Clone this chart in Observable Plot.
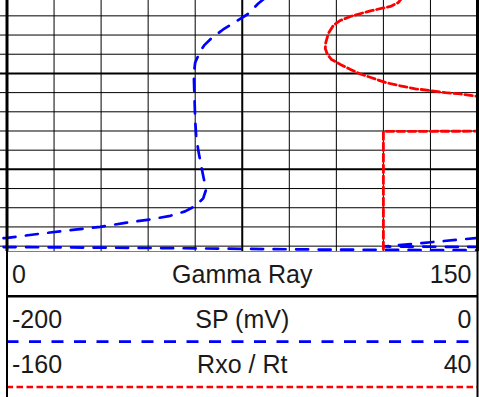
<!DOCTYPE html>
<html><head><meta charset="utf-8">
<script src="https://cdn.jsdelivr.net/npm/d3@7"></script>
<script src="https://cdn.jsdelivr.net/npm/@observablehq/plot@0.6"></script>
<style>
html,body{margin:0;padding:0;background:#fff;}
#chart svg{display:block;}
</style></head><body><div id="chart"></div>
<script>
// Track header scales
const trackLabels = ["Gamma Ray", "SP (mV)", "Rxo / Rt"];
const trackMin = [0, -200, -160];
const trackMax = [150, 0, 40];

// Depth window and 1-unit grid (heavy line every 5)
const depthDomain = [991.2, 1004.28];
const depthTicks = [992, 993, 994, 995, 996, 997, 998, 999, 1000, 1001, 1002, 1003, 1004];

// SP curve (mV) – main trace
const spMainDepth = [991.10, 991.36, 991.93, 992.35, 992.71, 993.13, 993.54, 993.86, 994.43, 995.05, 995.89, 997.45, 998.23, 999.01, 999.79, 1000.57, 1001.10, 1001.51, 1001.88, 1002.19, 1002.42, 1002.61, 1002.79, 1003.00, 1003.14, 1003.29, 1003.45, 1003.57, 1003.70];
const spMainValue = [-90.6, -93.2, -97.9, -103.4, -108.1, -112.8, -116.2, -117.9, -120.0, -120.6, -120.4, -120.0, -119.6, -118.7, -117.5, -116.2, -115.5, -116.6, -119.6, -124.3, -130.6, -139.2, -149.8, -160.4, -171.1, -181.7, -192.3, -200.0, -215.7];
// SP – lower traces
const spLowBDepth = [1004.04, 1004.10, 1004.18, 1004.22];
const spLowBValue = [-211.0, -135.0, -67.0, 10.0];
const spLowCDepth = [1003.47, 1003.57, 1004.02, 1004.05];
const spLowCValue = [9.8, 0.4, -40.0, 10.0];

// Rxo / Rt curve
const rxoDepth = [991.04, 991.30, 991.51, 991.59, 991.72, 991.81, 992.03, 992.24, 992.50, 992.92, 993.39, 993.70, 994.01, 994.27, 994.53, 994.79, 995.03, 995.24, 995.47, 995.65, 995.80, 995.90, 996.00, 996.07, 996.20, 996.41, 997.00, 998.00, 998.02, 1004.50];
const rxoValue = [8.1, 6.4, 3.0, 0.0, -4.7, -7.7, -14.0, -18.3, -21.3, -23.4, -24.5, -24.7, -23.8, -22.1, -18.3, -14.0, -9.8, -4.7, 0.8, 7.2, 13.6, 20.0, 26.4, 32.8, 40.4, 58.3, 90.0, 90.0, 0.0, 0.0];

const norm = (v, i) => (v - trackMin[i]) / (trackMax[i] - trackMin[i]);
const toRows = (depths, values, i, seg) => depths.map((d, k) => ({depth: d, x: norm(values[k], i), seg}));
const spData = [
  ...toRows(spMainDepth, spMainValue, 1, "a"),
  ...toRows(spLowBDepth, spLowBValue, 1, "b"),
  ...toRows(spLowCDepth, spLowCValue, 1, "c")
];
const rxoData = toRows(rxoDepth, rxoValue, 2, "r");
const gridX = d3.range(1, 10).map(i => i / 10);

const BLUE_DASH = "12,10.5";
const RED_DASH = "7.5,3.5";

const track = Plot.plot({
  width: 479, height: 251,
  marginTop: 0, marginBottom: 0, marginLeft: 0, marginRight: 0,
  x: {domain: [0, 1], range: [6.5, 477], axis: null},
  y: {domain: depthDomain, range: [0, 251], axis: null},
  marks: [
    Plot.ruleX(gridX.filter(v => Math.abs(v - 0.5) > 1e-9), {stroke: "#000", strokeWidth: 1}),
    Plot.ruleX([0.5], {stroke: "#000", strokeWidth: 2}),
    Plot.ruleY(depthTicks.filter(d => d % 5 !== 0), {stroke: "#000", strokeWidth: 1}),
    Plot.ruleY(depthTicks.filter(d => d % 5 === 0), {stroke: "#000", strokeWidth: 2}),
    Plot.line(spData, {x: "x", y: "depth", z: "seg", stroke: "#0000ff", strokeWidth: 2.7, strokeDasharray: BLUE_DASH, clip: true}),
    Plot.line(rxoData, {x: "x", y: "depth", stroke: "#ff0000", strokeWidth: 2.8, strokeDasharray: RED_DASH, clip: true}),
    Plot.ruleX([0, 1], {stroke: "#000", strokeWidth: 3})
  ]
});

const rows = trackLabels.map((t, i) => ({row: i, title: t, min: String(trackMin[i]), max: String(trackMax[i])}));
const font = {fontSize: 25, fontFamily: "Liberation Sans, Arial, sans-serif", fill: "#1a1a1a", lineAnchor: "bottom", dy: 31.5};

const header = Plot.plot({
  width: 479, height: 146,
  marginTop: 0, marginBottom: 0, marginLeft: 0, marginRight: 0,
  x: {domain: [0, 1], range: [6.5, 477], axis: null},
  y: {domain: [0, 3], range: [-0.5, 135.5], axis: null},
  marks: [
    Plot.ruleY([0], {x1: 0, x2: 1, stroke: "#000", strokeWidth: 1}),
    Plot.ruleY([1], {x1: 0, x2: 1, stroke: "#000", strokeWidth: 2.5}),
    Plot.ruleY([2], {x1: 0, x2: 1, stroke: "#0000ff", strokeWidth: 2.7, strokeDasharray: BLUE_DASH}),
    Plot.ruleY([3], {x1: 0, x2: 1, stroke: "#ff0000", strokeWidth: 2.7, strokeDasharray: "6.5,3.5"}),
    Plot.text(rows, {x: () => 0, y: "row", text: "min", textAnchor: "start", dx: 5, ...font}),
    Plot.text(rows, {x: () => 0.5, y: "row", text: "title", textAnchor: "middle", ...font}),
    Plot.text(rows, {x: () => 1, y: "row", text: "max", textAnchor: "end", dx: -6, ...font}),
    Plot.ruleX([0, 1], {stroke: "#000", strokeWidth: 2})
  ]
});

document.getElementById("chart").append(track, header);
</script>
</body></html>
